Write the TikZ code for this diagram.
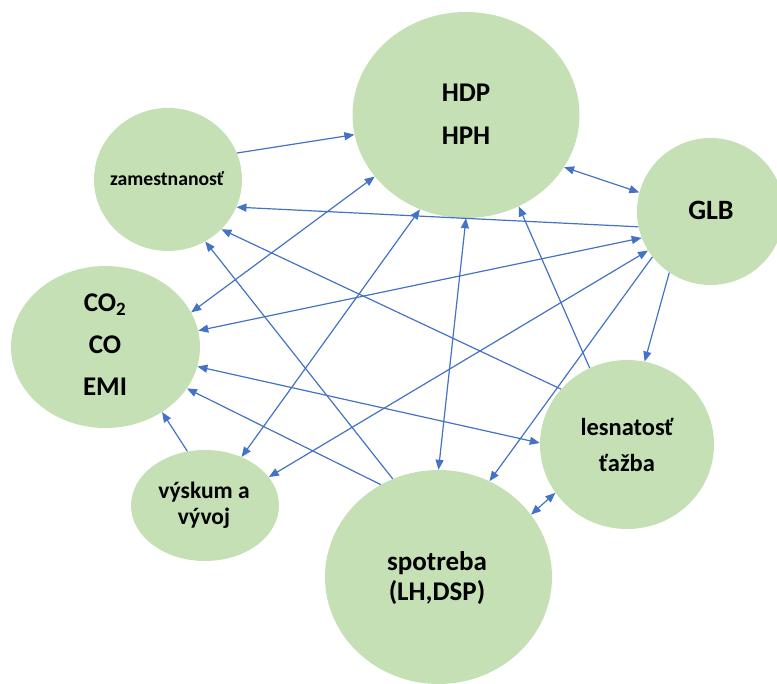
\documentclass[tikz,border=0pt]{standalone}
\usepackage{fontspec}
\setmainfont{Carlito}
\usetikzlibrary{shapes.geometric,arrows.meta}
\definecolor{bubblefill}{HTML}{C5E0B4}
\definecolor{linkblue}{HTML}{4472C4}
\tikzset{
  bubble/.style={ellipse, fill=bubblefill, draw=none, inner sep=0pt},
  caption/.style={align=center, text=black, inner sep=0pt},
  oneway/.style={draw=linkblue, line width=1.2pt, -{Triangle[length=10pt,width=8pt]}},
  twoway/.style={draw=linkblue, line width=1.2pt, {Triangle[length=10pt,width=8pt]}-{Triangle[length=10pt,width=8pt]}},
}
\begin{document}
\begin{tikzpicture}[x=1pt,y=-1pt]
\useasboundingbox (0,0) rectangle (777,684);
\clip (0,0) rectangle (777,684);

% bubbles
\node[bubble, minimum width=227pt, minimum height=206pt] (hdp) at (466,115) {};
\node[bubble, minimum width=147pt, minimum height=147pt] (glb) at (710.5,211.5) {};
\node[bubble, minimum width=148pt, minimum height=143pt] (zam) at (168,179.5) {};
\node[bubble, minimum width=189pt, minimum height=162pt] (co) at (105.5,347) {};
\node[bubble, minimum width=148pt, minimum height=111pt] (vys) at (205,505.5) {};
\node[bubble, minimum width=227pt, minimum height=214pt] (spo) at (438.5,577) {};
\node[bubble, minimum width=174pt, minimum height=169pt] (les) at (627,444.5) {};

% captions
\node[caption, font=\fontsize{27}{43}\selectfont\bfseries] (hdptxt) at (466,114.5) {HDP\\HPH};
\node[caption, font=\fontsize{28}{30}\selectfont\bfseries] (glbtxt) at (711,210) {GLB};
\node[caption, font=\fontsize{19.7}{22}\selectfont\bfseries] (zamtxt) at (167,179) {zamestnanosť};
\node[caption, font=\fontsize{27}{42}\selectfont\bfseries] (cotxt) at (105,345) {CO\textsubscript{2}\\CO\\EMI};
\node[caption, font=\fontsize{23.5}{26.5}\selectfont\bfseries] (vystxt) at (204,505) {výskum a\\vývoj};
\node[caption, font=\fontsize{27}{30}\selectfont\bfseries] (spotxt) at (437,578) {spotreba\\(LH,DSP)};
\node[caption, font=\fontsize{24.5}{36}\selectfont\bfseries] (lestxt) at (627,445) {lesnatosť\\ťažba};

% connectors
\draw[oneway] (zam.21) -- (hdp.190);
\draw[oneway] (glb.192) -- (zam.338);
\draw[oneway] (les.140) -- (zam.317);
\draw[oneway] (spo.115) -- (zam.301);
\draw[twoway] (co.22) -- (hdp.214);
\draw[twoway] (co.10) -- (glb.201);
\draw[twoway] (co.348) -- (les.179);
\draw[oneway] (spo.122) -- (co.333);
\draw[oneway] (vys.108) -- (co.311);
\draw[twoway] (vys.53) -- (hdp.244);
\draw[twoway] (vys.24) -- (glb.212);
\draw[twoway] (hdp.270) -- (spo.90);
\draw[oneway] (les.116) -- (hdp.300);
\draw[twoway] (hdp.332) -- (glb.165);
\draw[oneway] (glb.236) -- (les.78);
\draw[oneway] (glb.218) -- (spo.62);
\draw[twoway] (spo.34) -- (les.214);
\end{tikzpicture}
\end{document}
